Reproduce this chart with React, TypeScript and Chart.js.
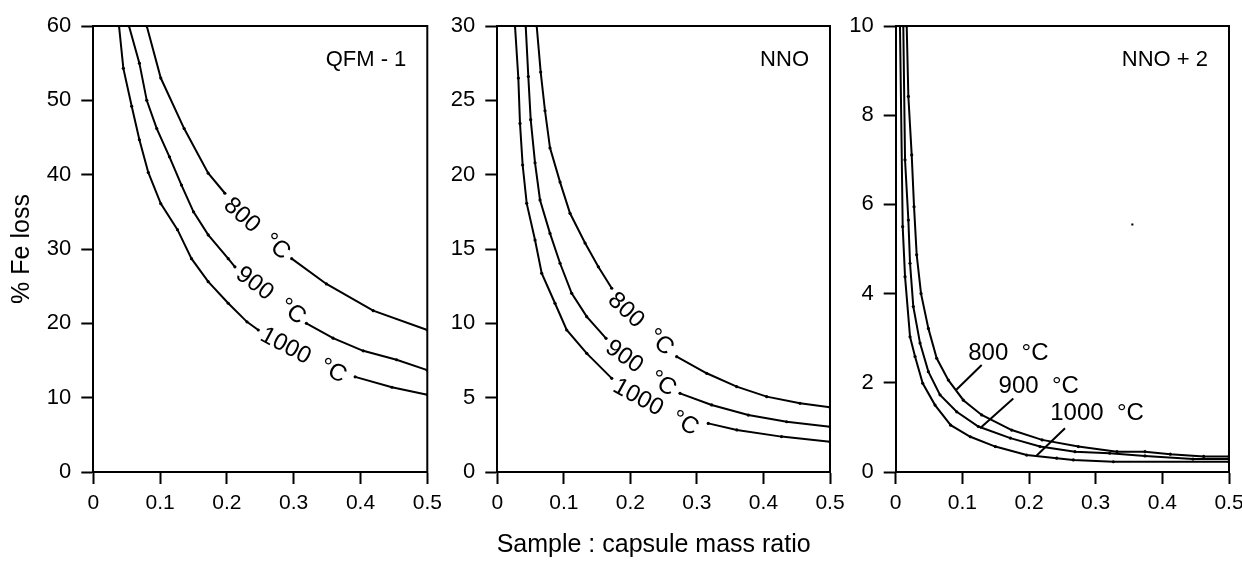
import React, { useEffect, useRef } from "react";
import { Chart, registerables } from "chart.js";

Chart.register(...registerables);

const FONT_FAMILY = '"Liberation Sans", Arial, Helvetica, sans-serif';

// ---------- shared ----------
const xTickValues = [0, 0.1, 0.2, 0.3, 0.4, 0.5];
const curveNames = ["800  °C", "900  °C", "1000  °C"];
const panelNames = ["QFM - 1", "NNO", "NNO + 2"];
const yAxisTitle = "% Fe loss";
const xAxisTitle = "Sample : capsule mass ratio";

// ---------- Panel 1 : QFM - 1 ----------
const qfmYTicks = [0, 10, 20, 30, 40, 50, 60];
const qfm800X = [0.08, 0.101, 0.136, 0.172, 0.197, 0.297, 0.349, 0.419, 0.5];
const qfm800Y = [60, 53.0, 46.2, 40.2, 37.5, 28.7, 25.3, 21.7, 19.1];
const qfm900X = [0.0534, 0.069, 0.08, 0.095, 0.114, 0.132, 0.15, 0.172, 0.202, 0.212, 0.319, 0.359, 0.404, 0.454, 0.5];
const qfm900Y = [60, 55.0, 50.0, 46.2, 42.4, 38.6, 35.0, 31.9, 28.7, 27.6, 20.0, 18.0, 16.3, 15.1, 13.7];
const qfm1000X = [0.0385, 0.045, 0.0575, 0.069, 0.0823, 0.101, 0.126, 0.147, 0.172, 0.202, 0.23, 0.247, 0.392, 0.447, 0.5];
const qfm1000Y = [60, 54.3, 49.2, 44.7, 40.3, 36.1, 32.6, 28.7, 25.6, 22.7, 20.2, 19.1, 12.8, 11.4, 10.4];
const qfmLabelX = [0.2446, 0.2655, 0.3144];
const qfmLabelY = [32.7, 23.7, 15.65];
const qfmLabelAngle = [42, 37, 28];

// ---------- Panel 2 : NNO ----------
const nnoYTicks = [0, 5, 10, 15, 20, 25, 30];
const nno800X = [0.0592, 0.0652, 0.0717, 0.0792, 0.0943, 0.1093, 0.1319, 0.1518, 0.172, 0.2696, 0.3147, 0.3598, 0.4049, 0.4549, 0.5];
const nno800Y = [30, 26.9, 24.3, 21.8, 19.5, 17.4, 15.4, 13.8, 12.36, 7.76, 6.64, 5.74, 5.07, 4.62, 4.35];
const nno900X = [0.0427, 0.0466, 0.0502, 0.0567, 0.0642, 0.0792, 0.0943, 0.1118, 0.1344, 0.1634, 0.2746, 0.3222, 0.3772, 0.4349, 0.5];
const nno900Y = [30, 26.6, 23.7, 20.8, 18.3, 16.05, 14.04, 12.02, 10.45, 8.99, 5.29, 4.51, 3.83, 3.38, 3.05];
const nno1000X = [0.0266, 0.0316, 0.0341, 0.0381, 0.0442, 0.0567, 0.0667, 0.0867, 0.1043, 0.1344, 0.172, 0.317, 0.36, 0.427, 0.5];
const nno1000Y = [30, 26.5, 23.45, 20.65, 18.07, 15.6, 13.37, 11.35, 9.55, 7.98, 6.3, 3.27, 2.83, 2.38, 2.04];
const nnoLabelX = [0.2155, 0.2155, 0.238];
const nnoLabelY = [9.95, 6.97, 4.35];
const nnoLabelAngle = [43, 35, 29];

// ---------- Panel 3 : NNO + 2 ----------
const nno2YTicks = [0, 2, 4, 6, 8, 10];
const nno2800X = [0.0165, 0.019, 0.024, 0.0275, 0.0315, 0.038, 0.049, 0.0615, 0.079, 0.1015, 0.129, 0.174, 0.2196, 0.274, 0.332, 0.374, 0.412, 0.462, 0.5];
const nno2800Y = [10, 8.42, 7.11, 5.95, 4.87, 4.0, 3.22, 2.55, 2.06, 1.61, 1.28, 0.94, 0.72, 0.57, 0.455, 0.455, 0.4, 0.35, 0.35];
const nno2900X = [0.0114, 0.014, 0.019, 0.0215, 0.0264, 0.0365, 0.049, 0.0665, 0.0915, 0.124, 0.172, 0.2165, 0.269, 0.321, 0.374, 0.446, 0.5];
const nno2900Y = [10, 7.0, 5.65, 4.68, 3.71, 2.89, 2.25, 1.73, 1.35, 1.02, 0.76, 0.57, 0.455, 0.42, 0.36, 0.29, 0.29];
const nno21000X = [0.0064, 0.0105, 0.014, 0.0215, 0.029, 0.0405, 0.059, 0.0825, 0.112, 0.1495, 0.1965, 0.2415, 0.2665, 0.3265, 0.5];
const nno21000Y = [10, 5.5, 4.38, 3.03, 2.59, 1.99, 1.5, 1.05, 0.79, 0.57, 0.38, 0.31, 0.27, 0.23, 0.23];
const nno2LabelX = [0.169, 0.2145, 0.302];
const nno2LabelY = [2.66, 1.91, 1.32];
const nno2LeaderX1 = [0.129, 0.1764, 0.254];
const nno2LeaderY1 = [2.4, 1.65, 0.98];
const nno2LeaderX2 = [0.0905, 0.1265, 0.2115];
const nno2LeaderY2 = [1.84, 0.98, 0.37];
const nno2StrayX = [0.355];
const nno2StrayY = [5.55];

type PanelCfg = {
  name: string;
  yMax: number;
  yTicks: number[];
  curves: { xs: number[]; ys: number[] }[];
  labelX: number[];
  labelY: number[];
  labelAngle: number[];
  gaps: boolean;
  leaders?: { x1: number[]; y1: number[]; x2: number[]; y2: number[] };
  stray?: { xs: number[]; ys: number[] };
  chartLeft: number;
  chartRight: number;
  yAxisWidth: number;
  showYTitle: boolean;
  showXTitle: boolean;
};

const W = 1242;
const H = 569;
const CHART_TOP = 26;
const CHART_BOTTOM = 472;

const panels: PanelCfg[] = [
  {
    name: panelNames[0], yMax: 60, yTicks: qfmYTicks,
    curves: [{ xs: qfm800X, ys: qfm800Y }, { xs: qfm900X, ys: qfm900Y }, { xs: qfm1000X, ys: qfm1000Y }],
    labelX: qfmLabelX, labelY: qfmLabelY, labelAngle: qfmLabelAngle, gaps: true,
    chartLeft: 93.3, chartRight: 427.3, yAxisWidth: 93.3, showYTitle: true, showXTitle: false,
  },
  {
    name: panelNames[1], yMax: 30, yTicks: nnoYTicks,
    curves: [{ xs: nno800X, ys: nno800Y }, { xs: nno900X, ys: nno900Y }, { xs: nno1000X, ys: nno1000Y }],
    labelX: nnoLabelX, labelY: nnoLabelY, labelAngle: nnoLabelAngle, gaps: true,
    chartLeft: 497.3, chartRight: 830, yAxisWidth: 60, showYTitle: false, showXTitle: true,
  },
  {
    name: panelNames[2], yMax: 10, yTicks: nno2YTicks,
    curves: [{ xs: nno2800X, ys: nno2800Y }, { xs: nno2900X, ys: nno2900Y }, { xs: nno21000X, ys: nno21000Y }],
    labelX: nno2LabelX, labelY: nno2LabelY, labelAngle: [0, 0, 0], gaps: false,
    leaders: { x1: nno2LeaderX1, y1: nno2LeaderY1, x2: nno2LeaderX2, y2: nno2LeaderY2 },
    stray: { xs: nno2StrayX, ys: nno2StrayY },
    chartLeft: 895.7, chartRight: 1229, yAxisWidth: 60, showYTitle: false, showXTitle: false,
  },
];

const decorPlugin = {
  id: "panelDecor",
  afterDraw(chart: any, _args: any, opts: any) {
    const { ctx, chartArea: a } = chart;
    const xs = chart.scales.x;
    const ys = chart.scales.y;
    const p: PanelCfg = opts.panel;
    ctx.save();
    // frame: top and right
    ctx.strokeStyle = "#000";
    ctx.lineWidth = 2;
    ctx.beginPath();
    ctx.moveTo(a.left, a.top);
    ctx.lineTo(a.right, a.top);
    ctx.lineTo(a.right, a.bottom + 1);
    ctx.stroke();

    ctx.fillStyle = "#000";
    // panel name
    ctx.font = `22px ${FONT_FAMILY}`;
    ctx.textAlign = "right";
    ctx.textBaseline = "middle";
    ctx.fillText(p.name, a.right - 21, a.top + 34);

    // leader lines
    if (p.leaders) {
      ctx.lineWidth = 2;
      for (let i = 0; i < p.leaders.x1.length; i++) {
        ctx.beginPath();
        ctx.moveTo(xs.getPixelForValue(p.leaders.x1[i]), ys.getPixelForValue(p.leaders.y1[i]));
        ctx.lineTo(xs.getPixelForValue(p.leaders.x2[i]), ys.getPixelForValue(p.leaders.y2[i]));
        ctx.stroke();
      }
    }

    // curve labels
    ctx.font = `24px ${FONT_FAMILY}`;
    ctx.textAlign = "center";
    ctx.textBaseline = "middle";
    for (let i = 0; i < p.labelX.length; i++) {
      const px = xs.getPixelForValue(p.labelX[i]);
      const py = ys.getPixelForValue(p.labelY[i]);
      ctx.save();
      ctx.translate(px, py);
      ctx.rotate((p.labelAngle[i] * Math.PI) / 180);
      ctx.fillText(curveNames[i], 0, 0);
      ctx.restore();
    }

    // shared x axis title
    if (p.showXTitle) {
      ctx.font = `25px ${FONT_FAMILY}`;
      ctx.textAlign = "center";
      ctx.textBaseline = "middle";
      ctx.fillText(xAxisTitle, (a.left + a.right) / 2 - 10, 545);
    }
    ctx.restore();
  },
};

function buildConfig(p: PanelCfg): any {
  const datasets: any[] = p.curves.map((c, i) => ({
    label: curveNames[i],
    data: c.xs.map((x, j) => ({ x, y: c.ys[j] })),
    borderColor: "#000",
    backgroundColor: "#000",
    borderWidth: 2,
    pointRadius: 1.6,
    pointHoverRadius: 1.6,
    pointBorderWidth: 0,
    pointBackgroundColor: "#000",
    tension: 0,
    fill: false,
    segment: {
      borderColor: (ctx: any) =>
        p.gaps && ctx.p0.parsed.x < p.labelX[i] && ctx.p1.parsed.x > p.labelX[i]
          ? "rgba(0,0,0,0)"
          : undefined,
    },
  }));
  if (p.stray) {
    datasets.push({
      label: "stray",
      data: p.stray.xs.map((x, j) => ({ x, y: p.stray!.ys[j] })),
      showLine: false,
      pointStyle: "rect",
      pointRadius: 1.5,
      pointBorderWidth: 0,
      pointBackgroundColor: "#000",
    });
  }
  return {
    type: "line",
    data: { datasets },
    plugins: [decorPlugin],
    options: {
      responsive: false,
      animation: false,
      devicePixelRatio: 1,
      events: [],
      layout: {
        padding: {
          left: p.chartLeft - p.yAxisWidth,
          right: W - p.chartRight,
          top: CHART_TOP,
          bottom: 0,
        },
      },
      plugins: {
        legend: { display: false },
        tooltip: { enabled: false },
        panelDecor: { panel: p },
      },
      scales: {
        x: {
          type: "linear",
          min: 0,
          max: 0.5,
          afterBuildTicks: (s: any) => {
            s.ticks = xTickValues.map((v) => ({ value: v }));
          },
          afterFit: (s: any) => {
            s.height = H - CHART_BOTTOM;
            s.paddingLeft = 0;
            s.paddingRight = 0;
          },
          ticks: {
            font: { family: FONT_FAMILY, size: 21 },
            color: "#000",
            padding: 7,
            autoSkip: false,
            maxRotation: 0,
            callback: (v: any) => String(v),
          },
          grid: {
            drawOnChartArea: false,
            drawTicks: true,
            tickLength: 12,
            tickWidth: 2,
            tickColor: "#000",
            color: "#000",
          },
          border: { display: true, color: "#000", width: 2 },
        },
        y: {
          type: "linear",
          min: 0,
          max: p.yMax,
          afterBuildTicks: (s: any) => {
            s.ticks = p.yTicks.map((v) => ({ value: v }));
          },
          afterFit: (s: any) => {
            s.width = p.yAxisWidth;
            s.paddingTop = 0;
            s.paddingBottom = 0;
          },
          title: {
            display: p.showYTitle,
            text: yAxisTitle,
            color: "#000",
            font: { family: FONT_FAMILY, size: 25 },
            padding: { top: 7, bottom: 0 },
          },
          ticks: {
            font: { family: FONT_FAMILY, size: 22 },
            color: "#000",
            padding: 10,
            autoSkip: false,
            callback: (v: any) => String(v),
          },
          grid: {
            drawOnChartArea: false,
            drawTicks: true,
            tickLength: 12,
            tickWidth: 2,
            tickColor: "#000",
            color: "#000",
          },
          border: { display: true, color: "#000", width: 2 },
        },
      },
    },
  };
}

function Panel({ cfg }: { cfg: PanelCfg }) {
  const ref = useRef<HTMLCanvasElement>(null);
  useEffect(() => {
    const chart = new Chart(ref.current as HTMLCanvasElement, buildConfig(cfg));
    return () => chart.destroy();
  }, [cfg]);
  return (
    <canvas
      ref={ref}
      width={W}
      height={H}
      style={{ position: "absolute", left: 0, top: 0, width: W, height: H }}
    />
  );
}

export default function App() {
  return (
    <div style={{ position: "absolute", left: 0, top: 0, width: W, height: H, background: "#fff" }}>
      {panels.map((p, i) => (
        <Panel key={i} cfg={p} />
      ))}
    </div>
  );
}
